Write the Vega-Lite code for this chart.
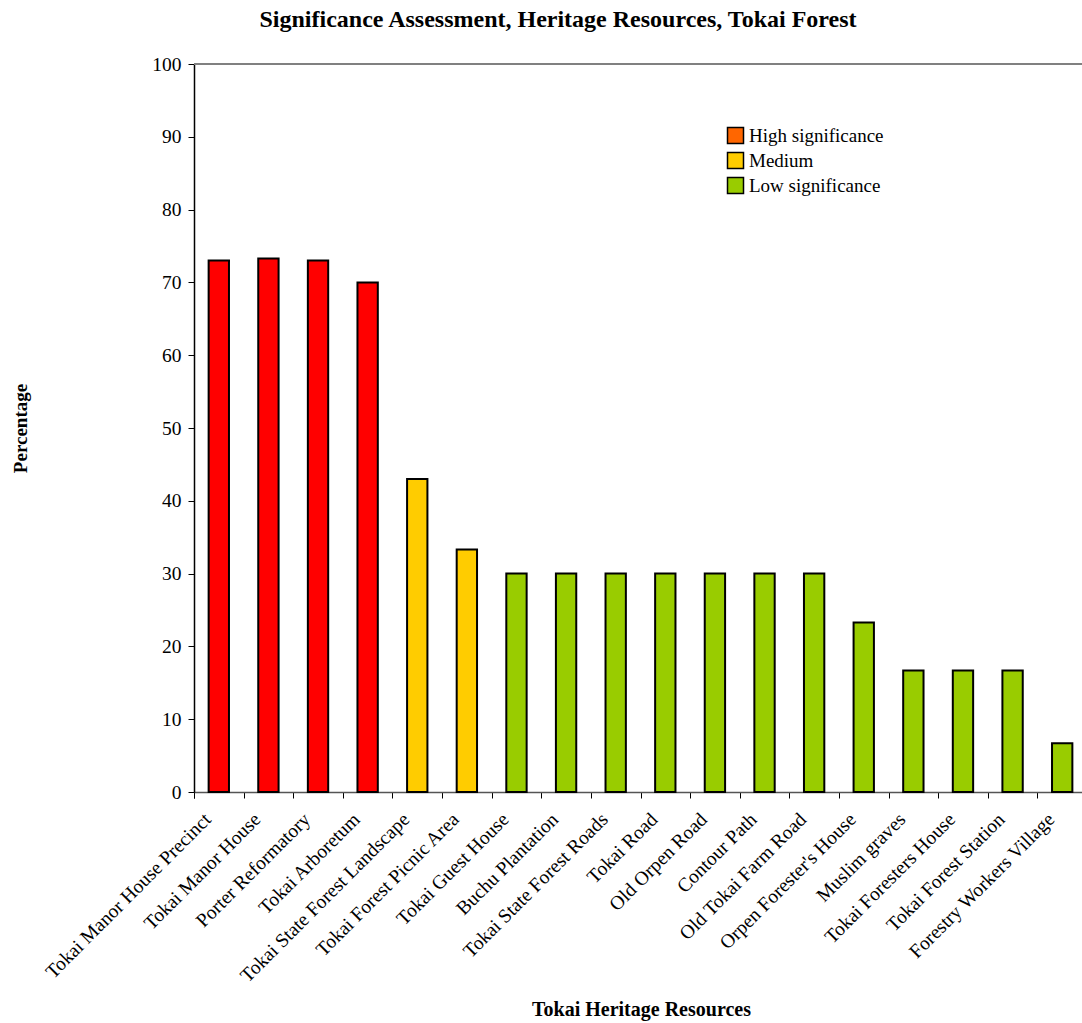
{
  "$schema": "https://vega.github.io/schema/vega-lite/v6.json",
  "width": 893,
  "height": 728,
  "autosize": {"type": "none"},
  "padding": {"left": 194, "top": 64, "right": -5, "bottom": 231},
  "background": "white",
  "config": {
    "view": {"stroke": null},
    "font": "Liberation Serif"
  },
  "title": {
    "text": "Significance Assessment, Heritage Resources, Tokai Forest",
    "font": "Liberation Serif",
    "fontSize": 24,
    "fontWeight": "bold",
    "color": "black",
    "anchor": "middle",
    "frame": "group",
    "dx": -82.5,
    "offset": 22
  },
  "data": {
    "values": [
      {"resource": "Tokai Manor House Precinct", "pct": 73, "sig": "High significance"},
      {"resource": "Tokai Manor House", "pct": 73.3, "sig": "High significance"},
      {"resource": "Porter Reformatory", "pct": 73, "sig": "High significance"},
      {"resource": "Tokai Arboretum", "pct": 70, "sig": "High significance"},
      {"resource": "Tokai State Forest Landscape", "pct": 43, "sig": "Medium"},
      {"resource": "Tokai Forest Picnic Area", "pct": 33.3, "sig": "Medium"},
      {"resource": "Tokai Guest House", "pct": 30, "sig": "Low significance"},
      {"resource": "Buchu Plantation", "pct": 30, "sig": "Low significance"},
      {"resource": "Tokai State Forest Roads", "pct": 30, "sig": "Low significance"},
      {"resource": "Tokai Road", "pct": 30, "sig": "Low significance"},
      {"resource": "Old Orpen Road", "pct": 30, "sig": "Low significance"},
      {"resource": "Contour Path", "pct": 30, "sig": "Low significance"},
      {"resource": "Old Tokai Farm Road", "pct": 30, "sig": "Low significance"},
      {"resource": "Orpen Forester's House", "pct": 23.3, "sig": "Low significance"},
      {"resource": "Muslim graves", "pct": 16.7, "sig": "Low significance"},
      {"resource": "Tokai Foresters House", "pct": 16.7, "sig": "Low significance"},
      {"resource": "Tokai Forest Station", "pct": 16.7, "sig": "Low significance"},
      {"resource": "Forestry Workers Village", "pct": 6.7, "sig": "Low significance"}
    ]
  },
  "layer": [
    {
      "mark": {"type": "bar", "stroke": "black", "strokeWidth": 2},
      "encoding": {
        "x": {
          "field": "resource",
          "type": "nominal",
          "sort": null,
          "scale": {"paddingInner": 0.59, "paddingOuter": 0.295},
          "axis": {
            "title": "Tokai Heritage Resources",
            "titleFont": "Liberation Serif",
            "titleFontSize": 20,
            "titleFontWeight": "bold",
            "titleColor": "black",
            "titleX": 447,
            "titleY": 217,
            "titleBaseline": "middle",
            "titleAlign": "center",
            "labelAngle": -45,
            "labelAlign": "right",
            "labelBaseline": "middle",
            "labelFont": "Liberation Serif",
            "labelFontSize": 19.5,
            "labelColor": "black",
            "labelLimit": 500,
            "labelPadding": 18,
            "bandPosition": 0,
            "tickExtra": true,
            "tickOffset": -14.63,
            "labelOffset": 3.2,
            "tickSize": 6,
            "tickColor": "black",
            "domainColor": "#555555",
            "domainWidth": 1.5
          }
        },
        "y": {
          "field": "pct",
          "type": "quantitative",
          "scale": {"domain": [0, 100], "nice": false},
          "axis": {
            "title": "Percentage",
            "titleFont": "Liberation Serif",
            "titleFontSize": 19,
            "titleFontWeight": "bold",
            "titleColor": "black",
            "titleX": -174,
            "titleY": 364,
            "titleAngle": -90,
            "titleAlign": "center",
            "titleBaseline": "middle",
            "values": [0, 10, 20, 30, 40, 50, 60, 70, 80, 90, 100],
            "grid": false,
            "labelFont": "Liberation Serif",
            "labelFontSize": 19.5,
            "labelColor": "black",
            "labelPadding": 7,
            "tickSize": 6,
            "tickColor": "black",
            "domainColor": "black",
            "domainWidth": 1.5
          }
        },
        "fill": {
          "condition": {"test": "datum.sig === 'High significance'", "value": "#FF0000"},
          "field": "sig",
          "type": "nominal",
          "scale": {
            "domain": ["High significance", "Medium", "Low significance"],
            "range": ["#FF6600", "#FFCC00", "#99CC00"]
          },
          "legend": {
            "title": null,
            "orient": "none",
            "legendX": 532,
            "legendY": 62,
            "padding": 0,
            "symbolType": "square",
            "symbolSize": 256,
            "symbolStrokeColor": "black",
            "symbolStrokeWidth": 1.5,
            "symbolOpacity": 1,
            "labelFont": "Liberation Serif",
            "labelFontSize": 19,
            "labelColor": "black",
            "labelOffset": 4,
            "rowPadding": 2,
            "labelLimit": 300
          }
        }
      }
    },
    {
      "mark": {"type": "rule", "color": "#808080", "strokeWidth": 2},
      "encoding": {"y": {"datum": 100}}
    }
  ]
}
